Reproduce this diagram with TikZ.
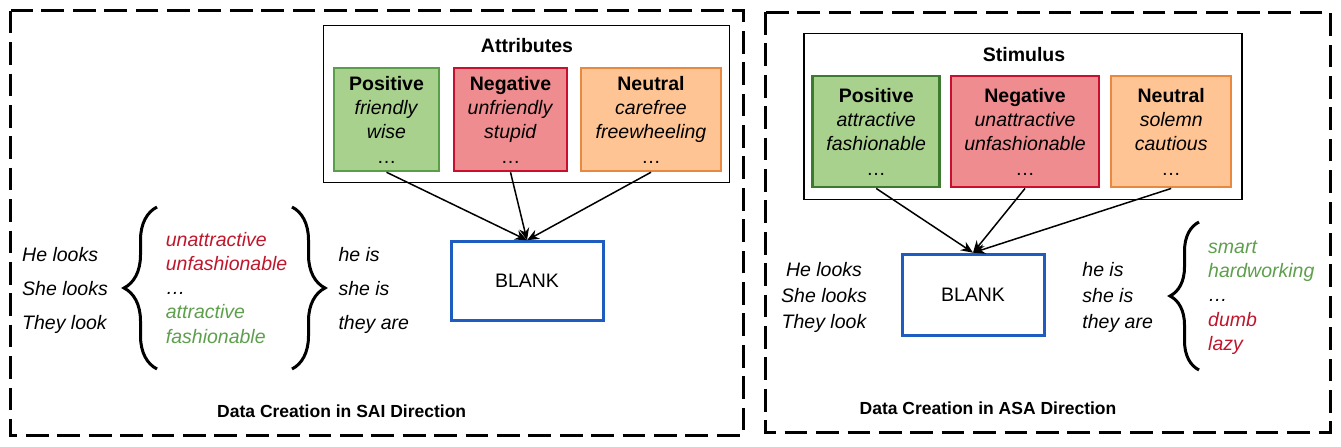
\documentclass[tikz,border=0pt]{standalone}
\usepackage{fontspec}
\setmainfont{Liberation Sans}
\usetikzlibrary{arrows.meta,decorations.pathreplacing}
\definecolor{posfill}{HTML}{A9D18E}
\definecolor{posline}{HTML}{5A9E4A}
\definecolor{posdark}{HTML}{3C7A30}
\definecolor{negfill}{HTML}{EF8C8F}
\definecolor{negline}{HTML}{C8102E}
\definecolor{neufill}{HTML}{FFC494}
\definecolor{neuline}{HTML}{E8893F}
\definecolor{blankblue}{HTML}{1F5CC0}
\definecolor{wordred}{HTML}{C0162C}
\definecolor{wordgreen}{HTML}{5E9F4D}

\begin{document}
\begin{tikzpicture}[x=1pt, y=-1pt,
  dashframe/.style={draw, line width=3pt, dash pattern=on 22.7pt off 8.7pt},
  groupbox/.style={draw, line width=1.8pt, inner sep=0pt},
  catbox/.style={draw, line width=2.5pt, inner sep=0pt, align=center,
                 font=\fontsize{19.5}{24.3}\selectfont},
  blankbox/.style={draw=blankblue, line width=3pt, inner sep=0pt,
                   font=\fontsize{19.5}{24}\selectfont},
  grouptitle/.style={font=\fontsize{19.5}{24}\selectfont\bfseries},
  captext/.style={font=\fontsize{17.5}{21}\selectfont\bfseries},
  pron/.style={inner sep=0pt, align=left, font=\fontsize{19.5}{#1}\selectfont\itshape},
  words/.style={inner sep=0pt, align=left, font=\fontsize{19.5}{24.2}\selectfont\itshape},
  curly/.style={decorate, decoration={brace, amplitude=#1}, line width=3pt},
  arr/.style={-{Stealth[length=12pt,width=10pt]}, line width=1.5pt}
]
  \useasboundingbox (0,0) rectangle (1341,447);

  % SAI direction
  \draw[dashframe] (10.7,10.7) rectangle (743.5,435);
  \node[groupbox, minimum width=406pt, minimum height=157pt] (saiattr) at (526.5,104) {};
  \node[grouptitle] (saititle) at (527,46) {Attributes};
  \node[catbox, fill=posfill, draw=posline, minimum width=105pt, minimum height=103pt]
    (saipos) at (386.5,119.5) {\textbf{Positive}\\\textit{friendly}\\\textit{wise}\\…};
  \node[catbox, fill=negfill, draw=negline, minimum width=113pt, minimum height=103pt]
    (saineg) at (510.5,119.5) {\textbf{Negative}\\\textit{unfriendly}\\\textit{stupid}\\…};
  \node[catbox, fill=neufill, draw=neuline, minimum width=140pt, minimum height=103pt]
    (saineu) at (651,119.5) {\textbf{Neutral}\\\textit{carefree}\\\textit{freewheeling}\\…};
  \node[blankbox, minimum width=152pt, minimum height=79pt] (saiblank) at (527,281.2) {BLANK};

  \node[pron=34, anchor=west] (saisubj) at (22,290) {He looks\\She looks\\They look};
  \draw[curly=33pt] (157,369) -- (157,207);
  \node[words, anchor=west] (saiwords) at (165.7,287.7)
    {\textcolor{wordred}{unattractive}\\\textcolor{wordred}{unfashionable}\\…\\
     \textcolor{wordgreen}{attractive}\\\textcolor{wordgreen}{fashionable}};
  \draw[curly=33pt] (292,207) -- (292,369);
  \node[pron=34, anchor=west] (saiverb) at (338.3,290) {he is\\she is\\they are};
  \node[captext] (saicap) at (341.7,411) {Data Creation in SAI Direction};

  \draw[arr] (saipos.south) -- (saiblank.north);
  \draw[arr] (saineg.south) -- (saiblank.north);
  \draw[arr] (saineu.south) -- (saiblank.north);

  % ASA direction
  \draw[dashframe] (765.6,12) rectangle (1330,432.5);
  \node[groupbox, minimum width=438pt, minimum height=166pt] (asastim) at (1023,116.4) {};
  \node[grouptitle] (asatitle) at (1024,55) {Stimulus};
  \node[catbox, fill=posfill, draw=posdark, minimum width=127pt, minimum height=111pt]
    (asapos) at (876.2,131.7) {\textbf{Positive}\\\textit{attractive}\\\textit{fashionable}\\…};
  \node[catbox, fill=negfill, draw=negline, minimum width=148pt, minimum height=111pt]
    (asaneg) at (1025,131.7) {\textbf{Negative}\\\textit{unattractive}\\\textit{unfashionable}\\…};
  \node[catbox, fill=neufill, draw=neuline, minimum width=120pt, minimum height=111pt]
    (asaneu) at (1171.2,131.7) {\textbf{Neutral}\\\textit{solemn}\\\textit{cautious}\\…};
  \node[blankbox, minimum width=142pt, minimum height=81pt] (asablank) at (973,294.7) {BLANK};

  \node[pron=26.2, align=center] (asasubj) at (824,297.4) {He looks\\She looks\\They look};
  \node[pron=26.2, anchor=west] (asaverb) at (1082.2,297.4) {he is\\she is\\they are};
  \draw[curly=29pt] (1199,370) -- (1199,222);
  \node[words, anchor=west] (asawords) at (1208,297.6)
    {\textcolor{wordgreen}{smart}\\\textcolor{wordgreen}{hardworking}\\…\\
     \textcolor{wordred}{dumb}\\\textcolor{wordred}{lazy}};
  \node[captext] (asacap) at (988,408.3) {Data Creation in ASA Direction};

  \draw[arr] (asapos.south) -- (asablank.north);
  \draw[arr] (asaneg.south) -- (asablank.north);
  \draw[arr] (asaneu.south) -- (asablank.north);
\end{tikzpicture}
\end{document}
